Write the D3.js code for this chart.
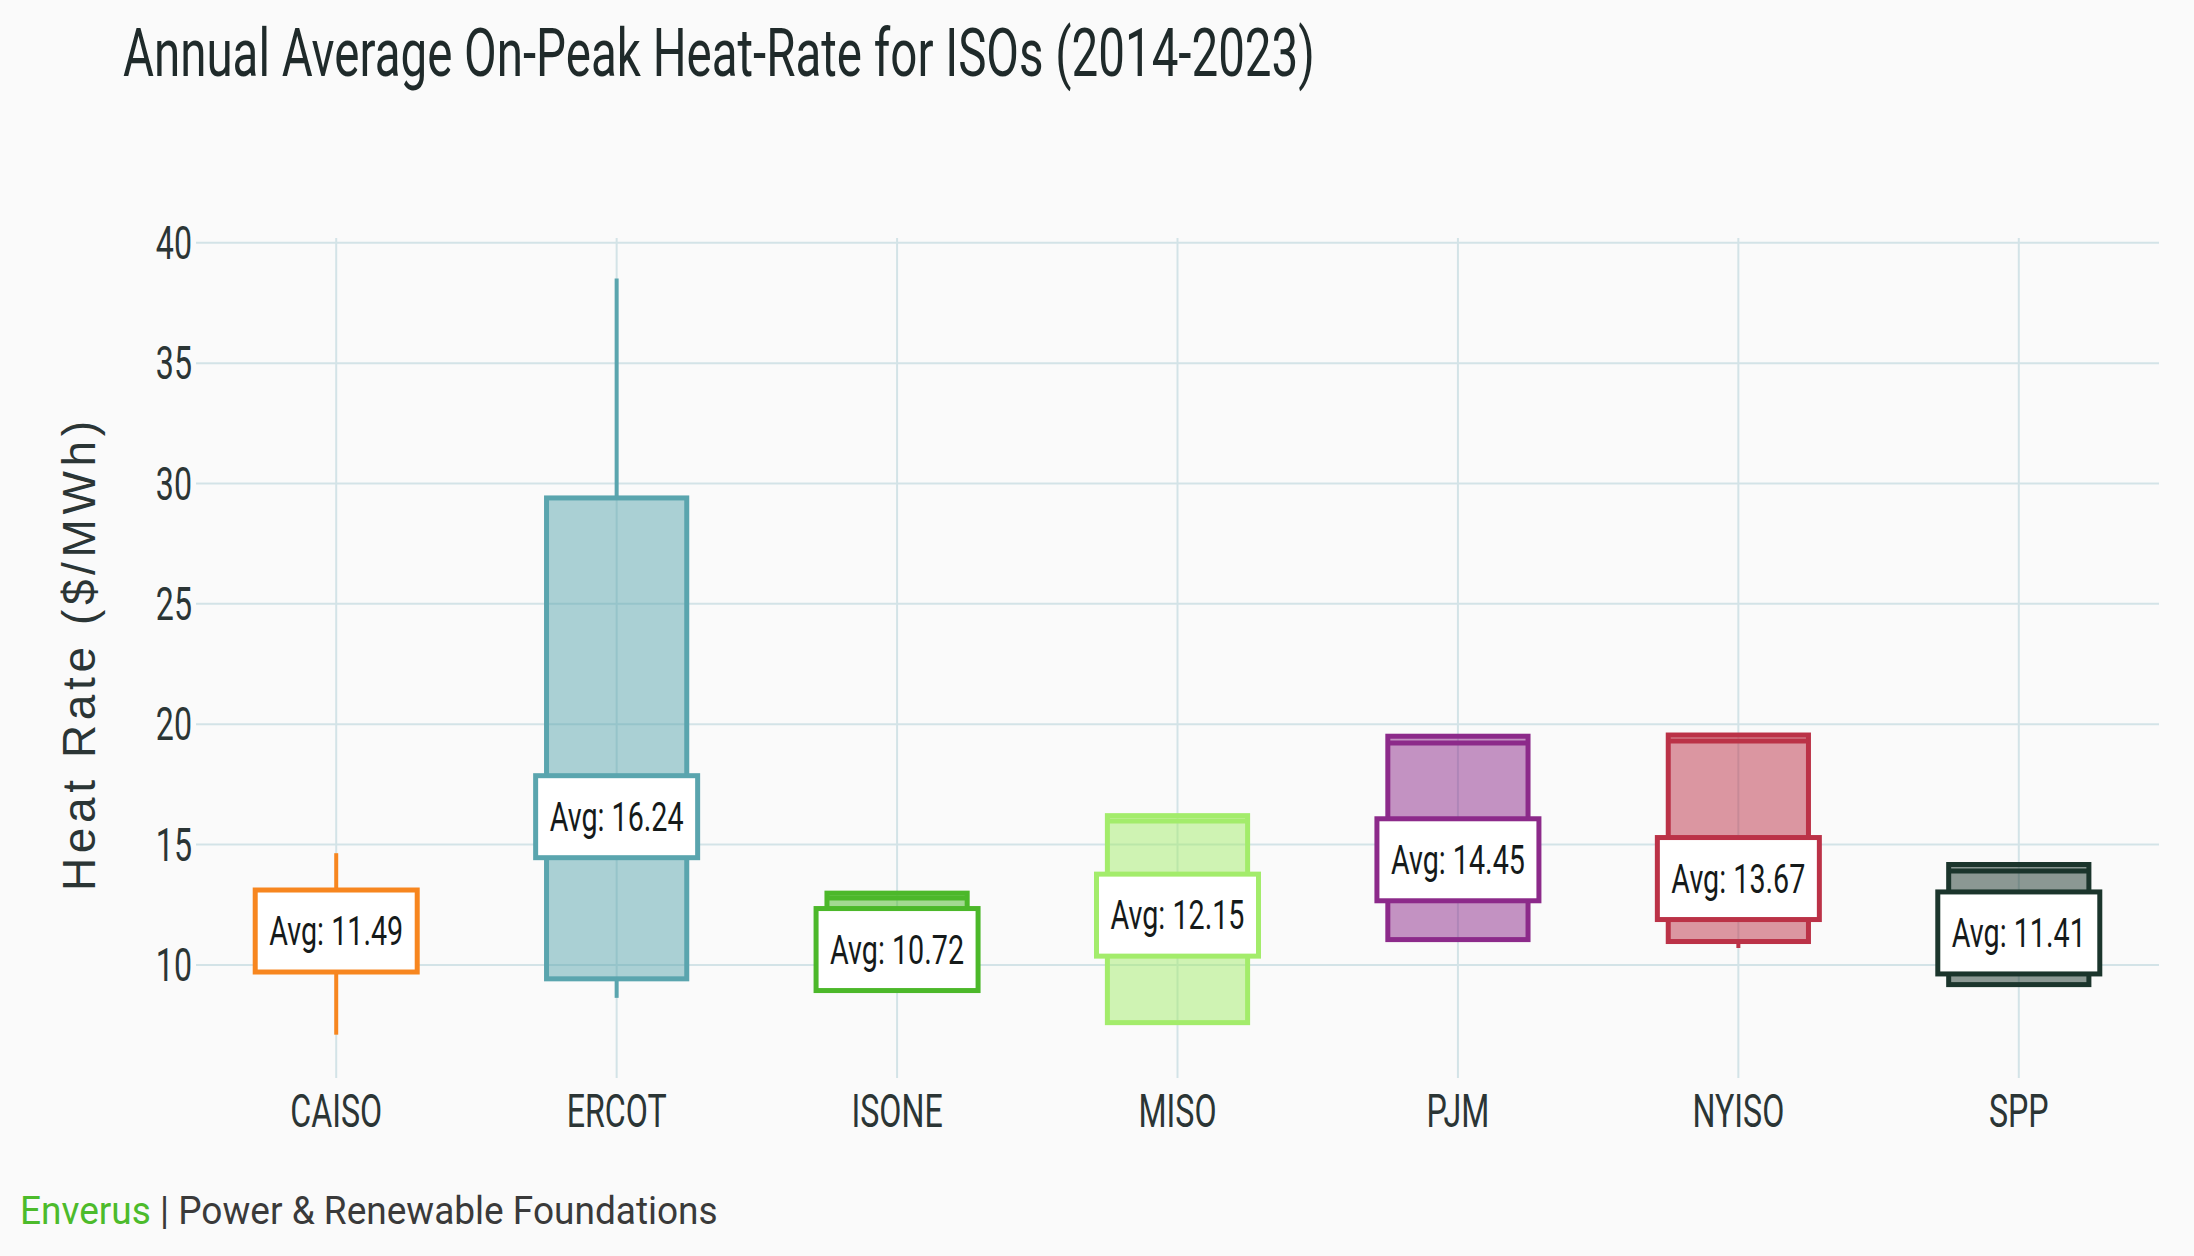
<!DOCTYPE html>
<html>
<head>
<meta charset="utf-8">
<script src="https://cdn.jsdelivr.net/npm/d3@7"></script>
<style>
  html, body { margin: 0; padding: 0; background: #fafafa; }
  svg { display: block; }
</style>
</head>
<body>
<script>
// ---------------- data ----------------
const categories = ["CAISO", "ERCOT", "ISONE", "MISO", "PJM", "NYISO", "SPP"];
const whiskerLow  = [7.10, 8.63, 8.95, 7.60, 11.05, 10.70, 9.18];
const q1Values    = [9.75, 9.42, 8.95, 7.60, 11.05, 10.97, 9.18];
const medianVals  = [11.30, 15.50, 12.78, 15.98, 19.22, 19.30, 13.90];
const q3Values    = [13.00, 29.40, 12.98, 16.20, 19.50, 19.55, 14.17];
const whiskerHigh = [14.64, 38.52, 12.98, 16.20, 19.50, 19.55, 14.17];
const meanValues  = [11.49, 16.24, 10.72, 12.15, 14.45, 13.67, 11.41];
const strokeColors = ["#f7861f", "#5aa5ae", "#4cb82a", "#a3ec6b", "#8c2a8a", "#bb3247", "#1b352c"];
const yTicks = [10, 15, 20, 25, 30, 35, 40];
const titleText = "Annual Average On-Peak Heat-Rate for ISOs (2014-2023)";
const yTitleText = "Heat Rate ($/MWh)";
const brandText = "Enverus";
const footerText = " | Power & Renewable Foundations";

// ---------------- layout ----------------
const W = 2194, H = 1256;
const plot = { left: 196, right: 2159, top: 238, bottom: 1078 };
const COND = 0.7;               // horizontal compression to mimic a condensed face
const bg = "#fafafa";
const gridColor = "#d3e3e7";
const textColor = "#2b3535";

const svg = d3.select("body").append("svg")
  .attr("width", W).attr("height", H)
  .style("background", bg);

const x = d3.scaleBand().domain(categories).range([plot.left, plot.right]).padding(0);
const y = d3.scaleLinear().domain([5.3, 40.2]).range([plot.bottom, plot.top]);
const cx = c => x(c) + x.bandwidth() / 2;

const data = categories.map((c, i) => ({
  cat: c, lo: whiskerLow[i], q1: q1Values[i], med: medianVals[i],
  q3: q3Values[i], hi: whiskerHigh[i], mean: meanValues[i], color: strokeColors[i]
}));

// helper for condensed text
function condText(g, px, py, str, size, anchor, sx, color, weight) {
  const t = g.append("text")
    .attr("transform", `translate(${px},${py}) scale(${sx},1)`)
    .attr("text-anchor", anchor)
    .style("font-family", "Roboto, 'Noto Sans', sans-serif")
    .style("font-size", size + "px")
    .style("font-weight", weight || 400)
    .attr("fill", color)
    .text(str);
  return t;
}

// ---------------- grid ----------------
const grid = svg.append("g");
grid.selectAll("line.h").data(yTicks).join("line")
  .attr("x1", plot.left).attr("x2", plot.right)
  .attr("y1", d => y(d)).attr("y2", d => y(d))
  .attr("stroke", gridColor).attr("stroke-width", 2);
grid.selectAll("line.v").data(categories).join("line")
  .attr("x1", d => cx(d)).attr("x2", d => cx(d))
  .attr("y1", plot.top).attr("y2", plot.bottom)
  .attr("stroke", gridColor).attr("stroke-width", 2);

// y tick labels
const yAxisG = svg.append("g");
yTicks.forEach(t => {
  condText(yAxisG, plot.left - 4, y(t) + 16, String(t), 46, "end", COND, textColor);
});

// x category labels
const xAxisG = svg.append("g");
categories.forEach(c => {
  condText(xAxisG, cx(c), 1127, c, 46, "middle", COND, textColor);
});

// ---------------- boxes ----------------
const boxW = x.bandwidth() * 0.5;
const labelW = 162, labelH = 82;
const marks = svg.append("g");

data.forEach(d => {
  const g = marks.append("g");
  const xc = cx(d.cat);
  // whiskers
  g.append("line")
    .attr("x1", xc).attr("x2", xc)
    .attr("y1", y(d.q3)).attr("y2", y(d.hi))
    .attr("stroke", d.color).attr("stroke-width", 4);
  g.append("line")
    .attr("x1", xc).attr("x2", xc)
    .attr("y1", y(d.q1)).attr("y2", y(d.lo))
    .attr("stroke", d.color).attr("stroke-width", 4);
  // box
  g.append("rect")
    .attr("x", xc - boxW / 2).attr("width", boxW)
    .attr("y", y(d.q3)).attr("height", y(d.q1) - y(d.q3))
    .attr("fill", d.color).attr("fill-opacity", 0.5)
    .attr("stroke", d.color).attr("stroke-width", 5);
  // median
  g.append("line")
    .attr("x1", xc - boxW / 2).attr("x2", xc + boxW / 2)
    .attr("y1", y(d.med)).attr("y2", y(d.med))
    .attr("stroke", d.color).attr("stroke-width", 5);
  // average label
  g.append("rect")
    .attr("x", xc - labelW / 2).attr("width", labelW)
    .attr("y", y(d.mean) - labelH / 2 + 2).attr("height", labelH)
    .attr("fill", "#ffffff")
    .attr("stroke", d.color).attr("stroke-width", 5);
  condText(g, xc, y(d.mean) + 16, "Avg: " + d.mean.toFixed(2), 41, "middle", COND, "#151a1a");
});

// ---------------- title ----------------
const title = svg.append("text")
  .attr("x", 0).attr("y", 0)
  .style("font-family", "Roboto, sans-serif")
  .style("font-size", "67px")
  .attr("fill", "#1f2a2a")
  .text(titleText);
{
  const len = title.node().getComputedTextLength();
  title.attr("transform", `translate(123,76) scale(${1192 / len},1)`);
}

// ---------------- y title ----------------
svg.append("text")
  .attr("transform", `translate(95,656) rotate(-90)`)
  .attr("text-anchor", "middle")
  .style("font-family", "'Liberation Sans', Arial, sans-serif")
  .style("font-size", "46px")
  .attr("fill", "#2b3535")
  .attr("textLength", 470)
  .attr("lengthAdjust", "spacing")
  .text(yTitleText);

// ---------------- footer ----------------
const foot = svg.append("text")
  .attr("x", 0).attr("y", 0)
  .style("font-family", "Roboto, sans-serif")
  .style("font-size", "38px");
foot.append("tspan").attr("fill", "#4cbb2b").text(brandText);
foot.append("tspan").attr("fill", "#3a3a3a").text(footerText);
{
  const len = foot.node().getComputedTextLength();
  foot.attr("transform", `translate(20,1224) scale(${698 / len},1)`);
}
</script>
</body>
</html>
